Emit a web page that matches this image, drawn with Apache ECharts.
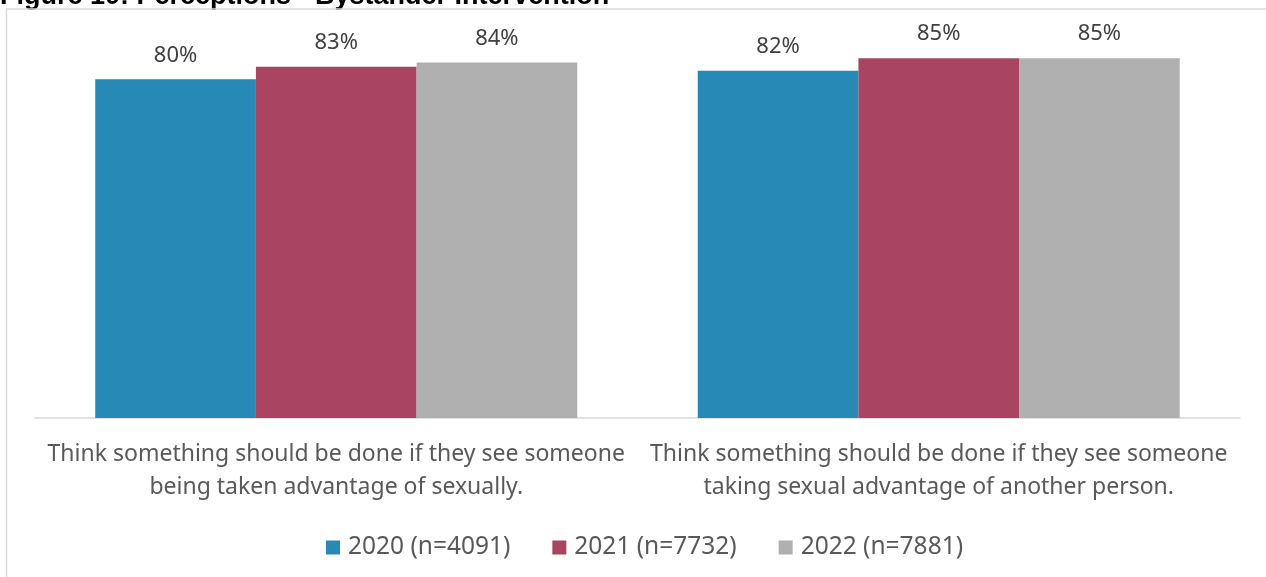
<!DOCTYPE html>
<html>
<head>
<meta charset="utf-8">
<script src="https://cdn.jsdelivr.net/npm/echarts@6/dist/echarts.min.js"></script>
<style>
  html, body { margin: 0; padding: 0; background: #fff; }
  #chart { width: 1266px; height: 577px; }
</style>
</head>
<body>
<div id="chart"></div>
<script>
// 数据
const categories = [
  'Think something should be done if they see someone\nbeing taken advantage of sexually.',
  'Think something should be done if they see someone\ntaking sexual advantage of another person.'
];
const seriesNames = ['2020 (n=4091)', '2021 (n=7732)', '2022 (n=7881)'];
const values2020 = [80, 82];
const values2021 = [83, 85];
const values2022 = [84, 85];
const colors = ['#2789b6', '#a94462', '#b0b0b0'];

const myChart = echarts.init(document.getElementById('chart'), null, { renderer: 'canvas' });

const labelStyle = {
  show: true,
  position: 'top',
  distance: 13,
  fontFamily: 'Noto Sans',
  fontSize: 22,
  color: '#404040',
  formatter: '{c}%'
};

const option = {
  animation: false,
  color: colors,
  textStyle: { fontFamily: 'Noto Sans' },
  graphic: [
    {  // 标题（上半部分被裁掉）
      type: 'text',
      left: 0,
      top: -17,
      style: {
        text: 'Figure 10: Perceptions - Bystander Intervention',
        font: 'bold 27px "Liberation Sans", Arial',
        fill: '#000'
      }
    },
    {  // 图表外框
      type: 'polyline',
      shape: { points: [[6.5, 600], [6.5, 9], [1270, 9]] },
      style: { stroke: '#d9d9d9', lineWidth: 1.5, fill: null }
    }
  ],
  grid: {
    left: 35,
    right: 26,
    top: 37,
    bottom: 159
  },
  legend: {
    data: seriesNames,
    left: 321,
    top: 530,
    itemWidth: 14,
    itemHeight: 14,
    itemGap: 42,
    icon: 'rect',
    textStyle: { fontSize: 24.5, color: '#595959', fontFamily: 'Noto Sans', padding: [0, 0, 0, 3] }
  },
  xAxis: {
    type: 'category',
    data: categories,
    axisLine: { lineStyle: { color: '#d9d9d9', width: 1.5 } },
    axisTick: { show: false },
    axisLabel: {
      interval: 0,
      margin: 20,
      fontSize: 23,
      lineHeight: 33,
      color: '#595959',
      fontFamily: 'Noto Sans'
    }
  },
  yAxis: {
    type: 'value',
    min: 0,
    max: 90,
    show: false,
    splitLine: { show: false }
  },
  series: [
    { name: seriesNames[0], type: 'bar', data: values2020, barGap: '0%', barCategoryGap: '20%', label: labelStyle },
    { name: seriesNames[1], type: 'bar', data: values2021, barGap: '0%', barCategoryGap: '20%', label: labelStyle },
    { name: seriesNames[2], type: 'bar', data: values2022, barGap: '0%', barCategoryGap: '20%', label: labelStyle }
  ]
};

myChart.setOption(option);
</script>
</body>
</html>
